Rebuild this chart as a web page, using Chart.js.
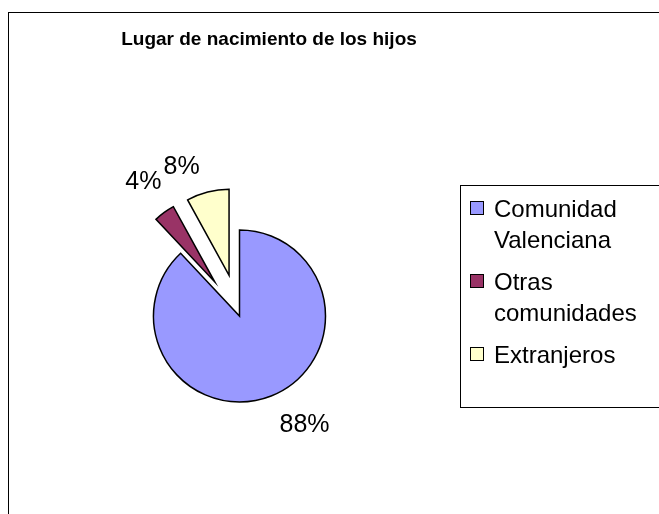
<!DOCTYPE html>
<html lang="es">
<head>
<meta charset="utf-8">
<title>Lugar de nacimiento de los hijos</title>
<script src="https://cdn.jsdelivr.net/npm/chart.js@4.4.0/dist/chart.umd.min.js"></script>
<style>
  html, body { margin: 0; padding: 0; background: #fff; }
  canvas { display: block; }
</style>
</head>
<body>
<canvas id="grafica" width="659" height="514"></canvas>
<script>
const titulo = 'Lugar de nacimiento de los hijos';
const lugares = ['Comunidad Valenciana', 'Otras comunidades', 'Extranjeros'];
const porcentajes = [88, 4, 8];
const colores = ['#9999FF', '#993366', '#FFFFCC'];

const fuente = '"Liberation Sans", Arial, sans-serif';
const radio = 86;
const separacion = [0, 42, 42];          // px que se separa cada porcion
const empuje = [[1, 0], [9, -7], [-3, 1]]; // ajuste fino de las etiquetas

const total = porcentajes.reduce((a, b) => a + b, 0);

// separa las porciones moviendo su centro (el offset de chart.js tambien agranda el radio)
const explotar = {
  id: 'explotar',
  afterDatasetUpdate(chart, args) {
    args.meta.data.forEach((arc, i) => {
      const mid = (arc.startAngle + arc.endAngle) / 2;
      arc.x += Math.cos(mid) * separacion[i];
      arc.y += Math.sin(mid) * separacion[i];
    });
  }
};

const marco = {
  id: 'marco',
  beforeDraw(chart) {
    const ctx = chart.ctx;
    ctx.save();
    ctx.fillStyle = '#fff';
    ctx.fillRect(0, 0, chart.width, chart.height);
    ctx.strokeStyle = '#000';
    ctx.lineWidth = 1;
    ctx.strokeRect(8.5, 12.5, 720, 600);
    ctx.restore();
  },
  afterDraw(chart) {
    const ctx = chart.ctx;
    ctx.save();
    ctx.fillStyle = '#000';
    ctx.font = 'bold 19px ' + fuente;
    ctx.textAlign = 'center';
    ctx.textBaseline = 'alphabetic';
    ctx.fillText(titulo, 269, 45);

    // leyenda con caja
    ctx.strokeStyle = '#000';
    ctx.lineWidth = 1;
    ctx.strokeRect(460.5, 185.5, 300, 222);
    const tam = 24;
    ctx.font = tam + 'px ' + fuente;
    ctx.textAlign = 'left';
    let y = 208;
    lugares.forEach((texto, i) => {
      const lineas = partir(ctx, texto, 162);
      ctx.fillStyle = colores[i];
      ctx.fillRect(470.5, y - 6.5, 13, 13);
      ctx.strokeRect(470.5, y - 6.5, 13, 13);
      ctx.fillStyle = '#000';
      lineas.forEach((l, j) => {
        ctx.fillText(l, 494, y + j * 31.5 + tam * 0.716 / 2);
      });
      y += lineas.length * 31.5 + 10;
    });
    ctx.restore();
  }
};

function partir(ctx, texto, ancho) {
  const palabras = texto.split(' ');
  const lineas = [];
  let actual = '';
  palabras.forEach(p => {
    const prueba = actual ? actual + ' ' + p : p;
    if (actual && ctx.measureText(prueba).width > ancho) {
      lineas.push(actual);
      actual = p;
    } else {
      actual = prueba;
    }
  });
  if (actual) lineas.push(actual);
  return lineas;
}

const etiquetas = {
  id: 'etiquetas',
  afterDatasetsDraw(chart) {
    const ctx = chart.ctx;
    const meta = chart.getDatasetMeta(0);
    const tam = 25;
    ctx.save();
    ctx.font = tam + 'px ' + fuente;
    ctx.fillStyle = '#000';
    ctx.textBaseline = 'alphabetic';
    meta.data.forEach((arc, i) => {
      const p = arc.getProps(['x', 'y', 'startAngle', 'endAngle', 'outerRadius'], true);
      const mid = (p.startAngle + p.endAngle) / 2;
      const dx = Math.cos(mid), dy = Math.sin(mid);
      const d = p.outerRadius + 20;
      const x = p.x + dx * d + empuje[i][0];
      const yy = p.y + dy * d + empuje[i][1];
      ctx.textAlign = dx < 0 ? 'right' : 'left';
      const texto = Math.round(porcentajes[i] / total * 100) + '%';
      ctx.fillText(texto, x, dy < 0 ? yy : yy + tam * 0.716);
    });
    ctx.restore();
  }
};

new Chart(document.getElementById('grafica'), {
  type: 'pie',
  data: {
    labels: lugares,
    datasets: [{
      data: porcentajes,
      backgroundColor: colores,
      borderColor: '#000',
      borderWidth: 1.5,
      borderJoinStyle: 'miter'
    }]
  },
  options: {
    responsive: false,
    animation: false,
    radius: radio,
    layout: { padding: { left: 100, right: 280, top: 200, bottom: 82 } },
    plugins: {
      legend: { display: false },
      title: { display: false },
      tooltip: { enabled: false }
    }
  },
  plugins: [explotar, marco, etiquetas]
});
</script>
</body>
</html>
